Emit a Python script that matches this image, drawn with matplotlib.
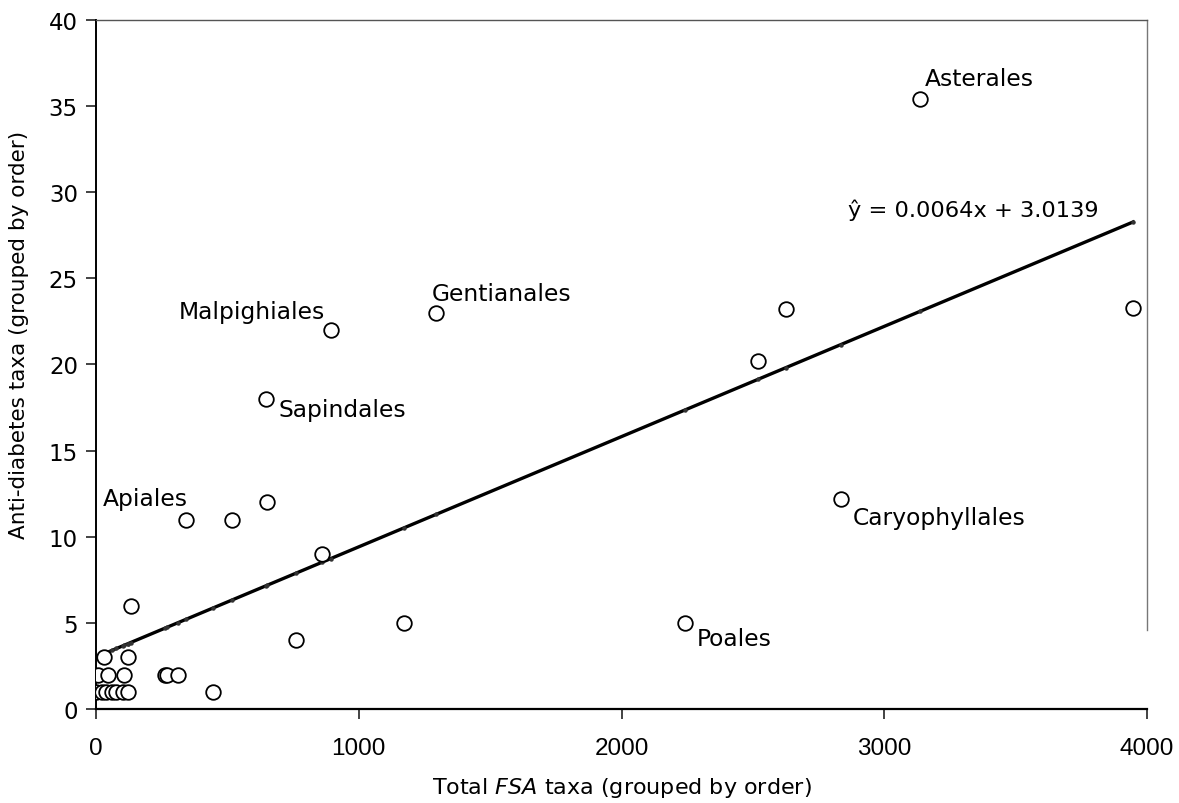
import matplotlib.pyplot as plt
import numpy as np

# Orders: total FSA taxa vs anti-diabetes taxa
fsa_taxa = [2, 22, 40, 60, 78, 104, 122, 445,
            9, 47, 108, 263, 270, 313,
            32, 120, 132, 761,
            342, 519, 652, 859, 894, 1294, 647, 1172,
            2242, 2520, 2626, 2835, 3136, 3947]
antidiab_taxa = [1, 1, 1, 1, 1, 1, 1, 1,
                 2, 2, 2, 2, 2, 2,
                 3, 3, 6, 4,
                 11, 11, 12, 9, 22, 23, 18, 5,
                 5, 20.2, 23.2, 12.2, 35.4, 23.3]

slope, intercept = 0.0064, 3.0139

label_names = ['Asterales', 'Malpighiales', 'Gentianales', 'Sapindales',
               'Apiales', 'Caryophyllales', 'Poales']
label_x = [3155, 872, 1279, 693, 27, 2881, 2287]
label_y = [36.6, 23.1, 24.1, 17.4, 12.2, 11.1, 4.1]
label_ha = ['left', 'right', 'left', 'left', 'left', 'left', 'left']

fig = plt.figure(figsize=(11.79, 8.04), dpi=100)
ax = fig.add_axes([0.0814, 0.1169, 0.8915, 0.857])

x = np.array(fsa_taxa, dtype=float)
fit_x = np.array([0, x.max()])
ax.plot(fit_x, slope * fit_x + intercept, color='black', lw=2.4, zorder=2)
ax.plot(x, slope * x + intercept, ls='none', marker='o', ms=2.2,
        color='#333333', zorder=2)

ax.plot(fsa_taxa, antidiab_taxa, ls='none', marker='o', ms=10.5,
        mfc='white', mec='black', mew=1.3, zorder=3)

for name, lx, ly, ha in zip(label_names, label_x, label_y, label_ha):
    ax.text(lx, ly, name, ha=ha, va='center', fontsize=16.8)

ax.text(2862, 29.0, r'ŷ = 0.0064x + 3.0139', ha='left', va='center', fontsize=16.2)

ax.set_xlim(0, 4000)
ax.set_ylim(0, 40)
ax.set_xticks([0, 1000, 2000, 3000, 4000])
ax.set_yticks(range(0, 41, 5))
ax.tick_params(axis='both', direction='out', length=7, width=1.2, color='#222222')
ax.tick_params(axis='y', labelsize=16.5, pad=6)
ax.tick_params(axis='x', labelsize=17.5, pad=13)
for lbl in ax.get_xticklabels():
    lbl.set_family(['Liberation Sans', 'DejaVu Sans'])

ax.spines['left'].set_linewidth(1.4)
ax.spines['bottom'].set_linewidth(1.6)
ax.spines['top'].set_color('#555555')
ax.spines['top'].set_linewidth(1.0)
ax.spines['right'].set_color('#777777')
ax.spines['right'].set_linewidth(1.0)
ax.spines['right'].set_bounds(4.6, 40)

ax.set_ylabel('Anti-diabetes taxa (grouped by order)', fontsize=15.5)
ax.yaxis.set_label_coords(-0.064, 0.544)
ax.set_xlabel(r'Total $\it{FSA}$ taxa (grouped by order)', fontsize=16, labelpad=12)

fig.savefig('out.png', dpi=100)
